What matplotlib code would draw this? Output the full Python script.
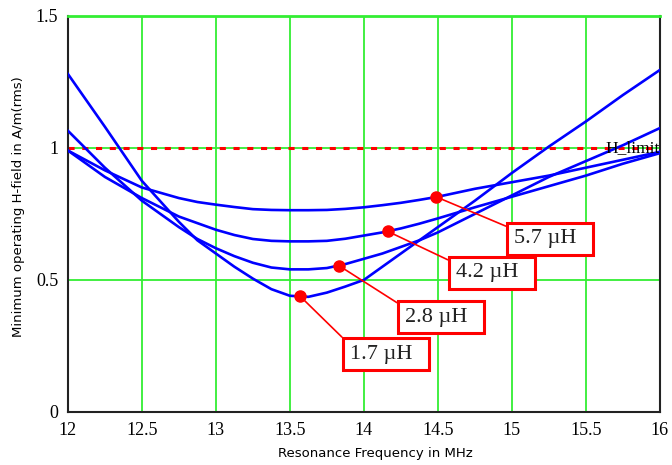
import numpy as np
import matplotlib
matplotlib.use("agg")
import matplotlib.pyplot as plt
from matplotlib.path import Path

# resonance frequency grid (MHz), finer around the minima
freq = [12.0, 12.25, 12.5, 12.75, 12.875, 13.0, 13.125, 13.25, 13.375, 13.5,
        13.625, 13.75, 13.875, 14.0, 14.125, 14.25, 14.375, 14.5, 14.75,
        15.0, 15.25, 15.5, 15.75, 16.0]

# minimum operating H-field (A/m rms) for each antenna inductance
h_1u7 = [1.28, 1.08, 0.875, 0.72, 0.65, 0.60, 0.55, 0.505, 0.465, 0.44,
         0.436, 0.452, 0.475, 0.50, 0.55, 0.60, 0.65, 0.70, 0.80,
         0.905, 1.005, 1.10, 1.20, 1.295]
h_2u8 = [1.065, 0.925, 0.80, 0.70, 0.655, 0.62, 0.59, 0.565, 0.547, 0.54,
         0.54, 0.545, 0.56, 0.58, 0.60, 0.625, 0.65, 0.68, 0.75,
         0.82, 0.89, 0.95, 1.01, 1.075]
h_4u2 = [0.99, 0.89, 0.81, 0.74, 0.715, 0.69, 0.67, 0.655, 0.648, 0.646,
         0.646, 0.648, 0.656, 0.668, 0.68, 0.695, 0.713, 0.733, 0.775,
         0.815, 0.855, 0.895, 0.94, 0.98]
h_5u7 = [0.99, 0.915, 0.85, 0.81, 0.795, 0.785, 0.776, 0.768, 0.765, 0.764,
         0.764, 0.765, 0.769, 0.775, 0.783, 0.792, 0.803, 0.815, 0.845,
         0.87, 0.895, 0.925, 0.955, 0.985]

curves = [h_1u7, h_2u8, h_4u2, h_5u7]
labels = ["1.7 \u00b5H", "2.8 \u00b5H", "4.2 \u00b5H", "5.7 \u00b5H"]
marker_freq = [13.57, 13.83, 14.16, 14.49]
h_limit = 1.0

# top-left corners of the label boxes
label_xy = [(13.858, 0.280), (14.23, 0.420), (14.574, 0.587), (14.966, 0.716)]


def label_box(x0, y0, width, height, mutation_size):
    # rectangle with more room on the right than on the left
    l, r, v = 0.3 * mutation_size, 0.75 * mutation_size, 0.29 * mutation_size
    return Path([(x0 - l, y0 - v), (x0 + width + r, y0 - v),
                 (x0 + width + r, y0 + height + v), (x0 - l, y0 + height + v),
                 (x0 - l, y0 - v)], closed=True)


fig = plt.figure(figsize=(6.72, 4.65), dpi=100)
ax = fig.add_axes([0.101, 0.114, 0.881, 0.852])

green = "#33ee33"
for v in [12.5, 13, 13.5, 14, 14.5, 15, 15.5]:
    ax.axvline(v, color=green, lw=1.3, zorder=1)
for v in [0.5, 1.0]:
    ax.axhline(v, color=green, lw=1.3, zorder=1)

for h in curves:
    ax.plot(freq, h, color="#0000ff", lw=1.9, zorder=3)

ax.axhline(h_limit, color="#ff0000", lw=2.2, ls=(0, (2, 2.5)), zorder=2)
ax.text(15.63, h_limit, "H_limit", family="Liberation Serif", fontsize=12.5,
        va="center", ha="left", clip_on=True, zorder=4)

for h, f, lab, (tx, ty) in zip(curves, marker_freq, labels, label_xy):
    y = np.interp(f, freq, h)
    ax.plot(f, y, "o", color="#ff0000", ms=8, zorder=5)
    ax.annotate(lab, xy=(f, y), xytext=(tx + 0.045, ty - 0.0246),
                ha="left", va="top", family="Liberation Serif", fontsize=16,
                color="#222222",
                bbox=dict(boxstyle=label_box, fc="white", ec="#ff0000", lw=2.2),
                arrowprops=dict(arrowstyle="-", color="#ff0000", lw=1.2,
                                relpos=(0, 1), shrinkA=0, shrinkB=0),
                zorder=6)

ax.set_xlim(12, 16)
ax.set_ylim(0, 1.5)
ax.set_xticks([12, 12.5, 13, 13.5, 14, 14.5, 15, 15.5, 16])
ax.set_xticklabels(["12", "12.5", "13", "13.5", "14", "14.5", "15", "15.5", "16"])
ax.set_yticks([0, 0.5, 1, 1.5])
ax.set_yticklabels(["0", "0.5", "1", "1.5"])
ax.tick_params(length=0, pad=7, labelsize=13)
for t in ax.get_xticklabels() + ax.get_yticklabels():
    t.set_family("Liberation Serif")

for s in ["left", "bottom", "right"]:
    ax.spines[s].set_color("#222222")
    ax.spines[s].set_linewidth(1.5)
ax.spines["top"].set_color(green)
ax.spines["top"].set_linewidth(2)

ax.set_xlabel("Resonance Frequency in MHz", fontsize=9.5)
ax.xaxis.set_label_coords(0.52, -0.088)
ax.set_ylabel("Minimum operating H-field in A/m(rms)", fontsize=9.5)
ax.yaxis.set_label_coords(-0.072, 0.518)

fig.savefig("out.png", dpi=100)
